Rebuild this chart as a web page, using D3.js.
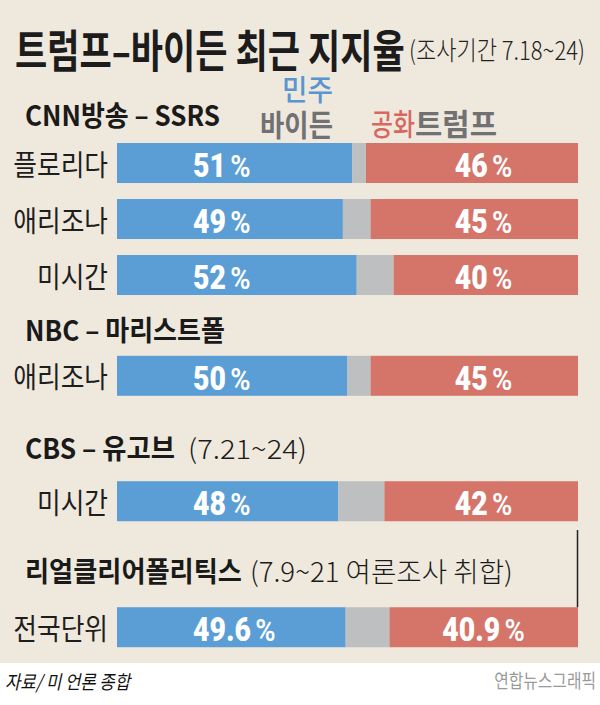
<!DOCTYPE html>
<html>
<head>
<meta charset="utf-8">
<script src="https://cdn.jsdelivr.net/npm/d3@7"></script>
<style>body{margin:0;background:#fff}</style>
</head>
<body>
<script>
// 조사 기관
var groups = ["CNN방송 – SSRS", "NBC – 마리스트폴", "CBS – 유고브", "리얼클리어폴리틱스"];
var groupNotes = ["", "", "(7.21~24)", "(7.9~21 여론조사 취합)"];
// 지역별 지지율
var states = ["플로리다", "애리조나", "미시간", "애리조나", "미시간", "전국단위"];
var biden = [51, 49, 52, 50, 48, 49.6];
var trump = [46, 45, 40, 45, 42, 40.9];

// layout, in "row slots" (one slot = distance between the CNN rows)
var rowSlot = [0, 1, 2, 3.8, 6.04, 8.29];
var headSlot = [-0.52, 3.32, 5.43, 7.63];
// header text widths (px) - the originals are set in a condensed face
var headLen = [195, 200, 150, 217];
var noteLen = [0, 0, 119, 263];

var KR = "'Noto Sans CJK KR', 'Noto Sans', sans-serif";
var NUM = "Roboto, 'Liberation Sans', sans-serif";
var BLUE = "#5a9ed5", RED = "#d5756a", GRAY = "#bebfc1";

var svg = d3.select("body").append("svg")
    .attr("width", 600)
    .attr("height", 705)
    .style("display", "block");

svg.append("rect")
    .attr("width", 600)
    .attr("height", 663)
    .attr("fill", "#efe9dd");

var x = d3.scaleLinear().domain([0, 100]).range([117, 578]);
var y = d3.scaleLinear().domain([0, 1]).range([143, 199]);
var barH = 40;

// text squeezed horizontally to a given width (condensed look)
function label(parent, o) {
    var t = parent.append("text")
        .attr("dominant-baseline", "central")
        .attr("text-anchor", o.anchor || "start")
        .attr("font-family", o.font || KR)
        .attr("font-size", o.size)
        .attr("font-weight", o.weight || 400)
        .attr("fill", o.fill || "#1a1a1a")
        .text(o.text);
    if (o.italic) t.attr("font-style", "italic");
    var k = o.len ? o.len / t.node().getComputedTextLength() : 1;
    t.attr("transform", "translate(" + o.x + "," + o.y + ") scale(" + k + ",1)");
    return t;
}

// 제목
label(svg, {x: 15, y: 48, text: "트럼프–바이든 최근 지지율", size: 45, weight: 700, len: 390, fill: "#1c1c1c"});
label(svg, {x: 409, y: 49, text: "(조사기간 7.18~24)", size: 26, weight: 300, len: 176, fill: "#222"});

// 범례
label(svg, {x: 282, y: 88, text: "민주", size: 29, weight: 500, len: 51, fill: "#5b95d0"});
label(svg, {x: 260, y: 123, text: "바이든", size: 30, weight: 700, len: 73, fill: "#717174"});
label(svg, {x: 371, y: 122, text: "공화", size: 30, weight: 500, len: 44, fill: "#d9675f"});
label(svg, {x: 415, y: 122, text: "트럼프", size: 30, weight: 700, len: 82, fill: "#717174"});

// 조사기관 헤더
groups.forEach(function (g, i) {
    var cy = y(headSlot[i]);
    label(svg, {x: 25, y: cy, text: g, size: 28, weight: 700, len: headLen[i]});
    if (groupNotes[i]) {
        label(svg, {x: 25 + headLen[i] + (i === 2 ? 13 : 8), y: cy, text: groupNotes[i], size: 27, weight: 300, len: noteLen[i]});
    }
});

// 막대
var rows = svg.append("g").selectAll("g")
    .data(states.map(function (s, i) { return {state: s, b: biden[i], t: trump[i], slot: rowSlot[i]}; }))
    .join("g")
    .attr("transform", function (d) { return "translate(0," + y(d.slot) + ")"; });

rows.append("rect")
    .attr("x", x(0))
    .attr("width", function (d) { return x(d.b) - x(0); })
    .attr("height", barH)
    .attr("fill", BLUE);
rows.append("rect")
    .attr("x", function (d) { return x(d.b); })
    .attr("width", function (d) { return x(100 - d.t) - x(d.b); })
    .attr("height", barH)
    .attr("fill", GRAY);
rows.append("rect")
    .attr("x", function (d) { return x(100 - d.t); })
    .attr("width", function (d) { return x(100) - x(100 - d.t); })
    .attr("height", barH)
    .attr("fill", RED);

// 지역 이름
rows.each(function (d) {
    label(d3.select(this), {x: 108, y: barH / 2, text: d.state, size: 29, anchor: "end", len: d.state.length * 23.7, fill: "#1e1e1e"});
});

function pct(sel, xpos, anchor, val) {
    var t = sel.append("text")
        .attr("transform", "translate(" + xpos + "," + (barH / 2 + 14) + ") scale(0.86,1)")
        .attr("text-anchor", anchor)
        .attr("font-family", NUM)
        .attr("fill", "#fff");
    t.append("tspan")
        .attr("font-size", 33)
        .attr("font-weight", 900)
        .text(val);
    t.append("tspan")
        .attr("dx", 5)
        .attr("font-size", 32)
        .attr("font-weight", 600)
        .attr("transform", "scale(0.8,1)")
        .text("%");
}
rows.each(function (d) {
    var g = d3.select(this);
    pct(g, x(16.5), "start", d.b);
    pct(g, x(79.5), "middle", d.t);
});

// 오른쪽 세로선
svg.append("line")
    .attr("x1", 577.5).attr("x2", 577.5)
    .attr("y1", 530).attr("y2", y(rowSlot[5]))
    .attr("stroke", "#222")
    .attr("stroke-width", 1.5);

// 출처
label(svg, {x: 5, y: 680, text: "자료/ 미 언론 종합", size: 19, len: 125, italic: true, fill: "#111"});
label(svg, {x: 596, y: 680, text: "연합뉴스그래픽", size: 19, anchor: "end", len: 102, fill: "#9a9a9a"});
</script>
</body>
</html>
